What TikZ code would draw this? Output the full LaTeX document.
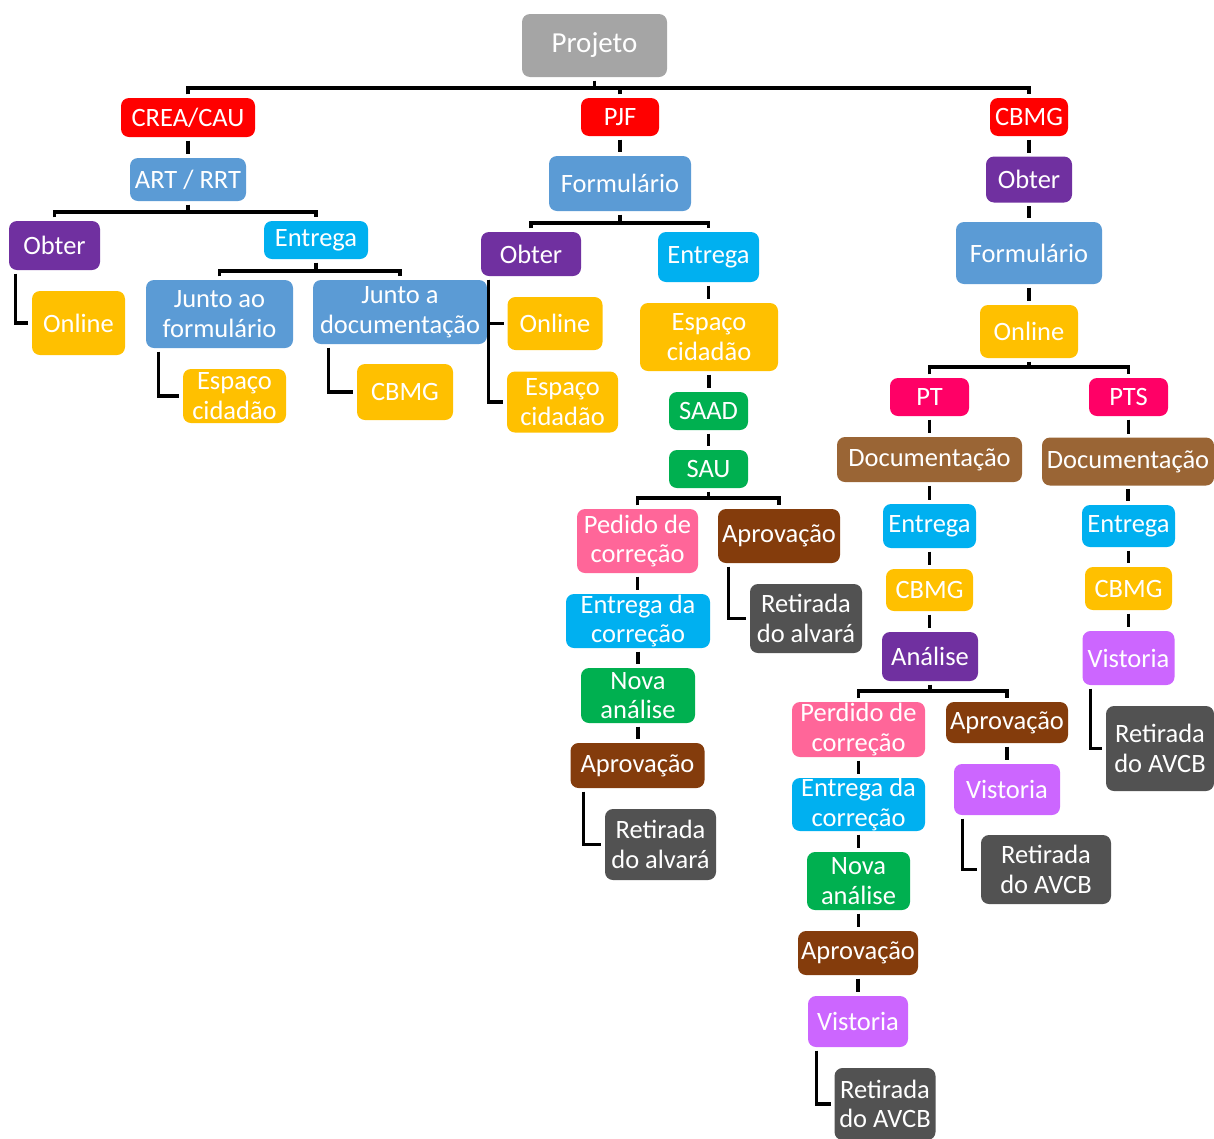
\documentclass[tikz,border=0pt]{standalone}
\usepackage{fontspec}
\setmainfont{Carlito}
\definecolor{cgray}{HTML}{A5A5A5}
\definecolor{cred}{HTML}{FF0000}
\definecolor{cblue}{HTML}{5B9BD5}
\definecolor{cpurple}{HTML}{7030A0}
\definecolor{ccyan}{HTML}{00B0F0}
\definecolor{cgold}{HTML}{FFC000}
\definecolor{cgreen}{HTML}{00B050}
\definecolor{cpink}{HTML}{FF6699}
\definecolor{cbrown}{HTML}{843C0C}
\definecolor{cdark}{HTML}{525252}
\definecolor{cmag}{HTML}{FF0066}
\definecolor{cdoc}{HTML}{9A6535}
\definecolor{cviolet}{HTML}{CC66FF}
\begin{document}
\begin{tikzpicture}[x=1pt,y=-1pt,
  box/.style={fill=#1, text=white, rounded corners=8pt, inner sep=0pt, align=center,
    font=\fontsize{26.5}{29.5}\selectfont},
  conn/.style={draw=black, line width=3.2pt, shorten <=3.5pt, shorten >=3.5pt},
  connS/.style={draw=black, line width=3.2pt, shorten <=3.5pt},
  wh/.style 2 args={minimum width=#1pt, minimum height=#2pt}]
\useasboundingbox (0,0) rectangle (1214,1138);
% ---------- nodes ----------
\node[box=cgray, wh={145}{63}, font=\fontsize{29}{32}\selectfont] (proj) at (594.5,45.5) {Projeto};
% CREA/CAU branch
\node[box=cred, wh={134}{39}] (crea) at (188,117.5) {CREA/CAU};
\node[box=cblue, wh={116}{43}] (art) at (188,179.5) {ART / RRT};
\node[box=cpurple, wh={91}{49}] (obterA) at (54.5,245.5) {Obter};
\node[box=ccyan, wh={104}{38}] (entregaA) at (316,240) {Entrega};
\node[box=cgold, wh={93}{64}] (onlineA) at (78.5,323) {Online};
\node[box=cblue, wh={147}{68}] (juntoForm) at (219.5,314) {Junto ao\\formulário};
\node[box=cblue, wh={174}{64}] (juntoDoc) at (400,312) {Junto a\\documentação};
\node[box=cgold, wh={103}{54}] (espA) at (234.5,396) {Espaço\\cidadão};
\node[box=cgold, wh={96}{56}] (cbmgA) at (405,392) {CBMG};
% PJF branch
\node[box=cred, wh={78}{38}] (pjf) at (620,117) {PJF};
\node[box=cblue, wh={142}{55}] (formB) at (620,183.5) {Formulário};
\node[box=cpurple, wh={100}{44}] (obterB) at (531,254) {Obter};
\node[box=ccyan, wh={101}{50}] (entregaB) at (708.5,257) {Entrega};
\node[box=cgold, wh={95}{53}] (onlineB) at (555,323.5) {Online};
\node[box=cgold, wh={111}{61}] (espB1) at (562.5,402) {Espaço\\cidadão};
\node[box=cgold, wh={138}{68}] (espB2) at (709,337) {Espaço\\cidadão};
\node[box=cgreen, wh={79}{38}] (saad) at (708.5,411) {SAAD};
\node[box=cgreen, wh={79}{38}] (sau) at (708.5,469) {SAU};
\node[box=cpink, wh={121}{64}] (pedido) at (637.5,541) {Pedido de\\correção};
\node[box=cbrown, wh={122}{54}] (aprovB) at (779,536) {Aprovação};
\node[box=cdark, wh={112}{69}] (retB1) at (806,618.5) {Retirada\\do alvará};
\node[box=ccyan, wh={144}{54}] (entCorrB) at (638,621) {Entrega da\\correção};
\node[box=cgreen, wh={114}{55}] (novaB) at (638,695.5) {Nova\\análise};
\node[box=cbrown, wh={134}{45}] (aprovB2) at (637.5,765.5) {Aprovação};
\node[box=cdark, wh={111}{71}] (retB2) at (660.5,844.5) {Retirada\\do alvará};
% CBMG branch
\node[box=cred, wh={78}{38}] (cbmgR) at (1029,117) {CBMG};
\node[box=cpurple, wh={86}{46}] (obterC) at (1029,179.5) {Obter};
\node[box=cblue, wh={146}{62}] (formC) at (1029,253) {Formulário};
\node[box=cgold, wh={98}{53}] (onlineC) at (1029,331.5) {Online};
\node[box=cmag, wh={79}{38}] (pt) at (929.5,397) {PT};
\node[box=cmag, wh={79}{38}] (pts) at (1128.5,397) {PTS};
\node[box=cdoc, wh={185}{45}] (docPT) at (929.5,459.5) {Documentação};
\node[box=cdoc, wh={172}{48}] (docPTS) at (1128,461.5) {Documentação};
\node[box=ccyan, wh={93}{44}] (entPT) at (929.5,526) {Entrega};
\node[box=ccyan, wh={93}{42}] (entPTS) at (1128.5,526) {Entrega};
\node[box=cgold, wh={87}{42}] (cbmgPT) at (929.5,590) {CBMG};
\node[box=cgold, wh={87}{43}] (cbmgPTS) at (1128.5,588.5) {CBMG};
\node[box=cpurple, wh={96}{49}] (analise) at (930,656.5) {Análise};
\node[box=cviolet, wh={92}{54}] (vistPTS) at (1128.5,658) {Vistoria};
\node[box=cdark, wh={108}{85}] (retPTS) at (1160,748.5) {Retirada\\do AVCB};
\node[box=cpink, wh={133}{55}] (perdido) at (858.5,729.5) {Perdido de\\correção};
\node[box=cbrown, wh={122}{41}] (aprovC) at (1007,722.5) {Aprovação};
\node[box=cviolet, wh={106}{51}] (vistMid) at (1007,789.5) {Vistoria};
\node[box=cdark, wh={130}{69}] (retMid) at (1046,869.5) {Retirada\\do AVCB};
\node[box=ccyan, wh={133}{53}] (entCorrC) at (858.5,804.5) {Entrega da\\correção};
\node[box=cgreen, wh={103}{58}] (novaC) at (858.5,881) {Nova\\análise};
\node[box=cbrown, wh={120}{44}] (aprovC2) at (858,953) {Aprovação};
\node[box=cviolet, wh={100}{51}] (vistC) at (858,1021.5) {Vistoria};
\node[box=cdark, wh={101}{72}] (retC) at (885,1104) {Retirada\\do AVCB};
% ---------- bus levels ----------
\coordinate (busT) at (0,88);
\coordinate (busA) at (0,212);
\coordinate (busA2) at (0,271);
\coordinate (busB) at (0,223);
\coordinate (busB2) at (0,498);
\coordinate (busC) at (0,367);
\coordinate (busC2) at (0,691);
% ---------- connectors ----------
% top
\draw[connS] (proj.south) -- (proj.south |- busT);
\draw[conn] (crea.north) -- (crea.north |- busT) -- (cbmgR.north |- busT) -- (cbmgR.north);
\draw[connS] (pjf.north) -- (pjf.north |- busT);
% CREA/CAU
\draw[conn] (crea.south) -- (crea.south |- art.north);
\draw[connS] (art.south) -- (art.south |- busA);
\draw[conn] (obterA.north) -- (obterA.north |- busA) -- (entregaA.north |- busA) -- (entregaA.north);
\draw[connS] (entregaA.south) -- (entregaA.south |- busA2);
\draw[conn] (juntoForm.north) -- (juntoForm.north |- busA2) -- (juntoDoc.north |- busA2) -- (juntoDoc.north);
\draw[conn] ([xshift=7pt]obterA.south west) |- (onlineA.west);
\draw[conn] ([xshift=13pt]juntoForm.south west) |- (espA.west);
\draw[conn] ([xshift=16pt]juntoDoc.south west) |- (cbmgA.west);
% PJF
\draw[conn] (pjf.south) -- (pjf.south |- formB.north);
\draw[connS] (formB.south) -- (formB.south |- busB);
\draw[conn] (obterB.north) -- (obterB.north |- busB) -- (entregaB.north |- busB) -- (entregaB.north);
\draw[conn] ([xshift=8pt]obterB.south west) |- (onlineB.west);
\draw[conn] ([xshift=8pt]obterB.south west) |- (espB1.west);
\draw[conn] (entregaB.south) -- (entregaB.south |- espB2.north);
\draw[conn] (espB2.south) -- (espB2.south |- saad.north);
\draw[conn] (saad.south) -- (saad.south |- sau.north);
\draw[connS] (sau.south) -- (sau.south |- busB2);
\draw[conn] (pedido.north) -- (pedido.north |- busB2) -- (aprovB.north |- busB2) -- (aprovB.north);
\draw[conn] ([xshift=11pt]aprovB.south west) |- (retB1.west);
\draw[conn] (pedido.south) -- (pedido.south |- entCorrB.north);
\draw[conn] (entCorrB.south) -- (entCorrB.south |- novaB.north);
\draw[conn] (novaB.south) -- (novaB.south |- aprovB2.north);
\draw[conn] ([xshift=13pt]aprovB2.south west) |- (retB2.west);
% CBMG
\draw[conn] (cbmgR.south) -- (cbmgR.south |- obterC.north);
\draw[conn] (obterC.south) -- (obterC.south |- formC.north);
\draw[conn] (formC.south) -- (formC.south |- onlineC.north);
\draw[connS] (onlineC.south) -- (onlineC.south |- busC);
\draw[conn] (pt.north) -- (pt.north |- busC) -- (pts.north |- busC) -- (pts.north);
\draw[conn] (pt.south) -- (pt.south |- docPT.north);
\draw[conn] (docPT.south) -- (docPT.south |- entPT.north);
\draw[conn] (entPT.south) -- (entPT.south |- cbmgPT.north);
\draw[conn] (cbmgPT.south) -- (cbmgPT.south |- analise.north);
\draw[conn] (pts.south) -- (pts.south |- docPTS.north);
\draw[conn] (docPTS.south) -- (docPTS.south |- entPTS.north);
\draw[conn] (entPTS.south) -- (entPTS.south |- cbmgPTS.north);
\draw[conn] (cbmgPTS.south) -- (cbmgPTS.south |- vistPTS.north);
\draw[conn] ([xshift=8pt]vistPTS.south west) |- (retPTS.west);
\draw[connS] (analise.south) -- (analise.south |- busC2);
\draw[conn] (perdido.north) -- (perdido.north |- busC2) -- (aprovC.north |- busC2) -- (aprovC.north);
\draw[conn] (aprovC.south) -- (aprovC.south |- vistMid.north);
\draw[conn] ([xshift=9pt]vistMid.south west) |- (retMid.west);
\draw[conn] (perdido.south) -- (perdido.south |- entCorrC.north);
\draw[conn] (entCorrC.south) -- (entCorrC.south |- novaC.north);
\draw[conn] (novaC.south) -- (novaC.south |- aprovC2.north);
\draw[conn] (aprovC2.south) -- (aprovC2.south |- vistC.north);
\draw[conn] ([xshift=9pt]vistC.south west) |- (retC.west);
\end{tikzpicture}
\end{document}
